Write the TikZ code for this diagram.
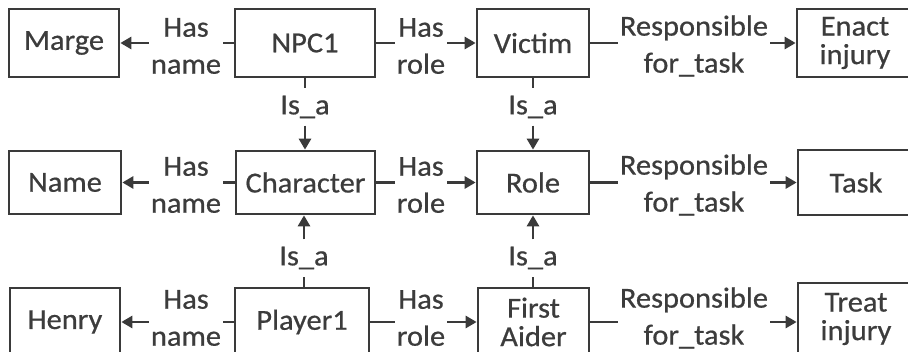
\documentclass[tikz,border=0pt]{standalone}
\usepackage{fontspec}
\setmainfont{Carlito}[FakeStretch=1.05, FakeBold=0.6]
\usetikzlibrary{arrows.meta}
\definecolor{ink}{HTML}{3A3A3A}
\definecolor{txt}{HTML}{3C3C3C}
\tikzset{
  concept/.style={draw=ink, line width=2.7pt, text=txt, align=center, inner sep=0pt,
                  font=\fontsize{29}{28.5}\selectfont},
  rel/.style={text=txt, align=center, inner xsep=2pt, inner ysep=0pt, font=\fontsize{29}{37}\selectfont},
  isa/.style={text=txt, inner sep=0pt, minimum height=37pt, font=\fontsize{29}{37}\selectfont},
  link/.style={draw=ink, line width=2.7pt},
  arr/.style={link, -{Triangle[length=11pt,width=12pt]}},
}
\begin{document}
\begin{tikzpicture}[x=1pt, y=-1pt]
\useasboundingbox[fill=white] (0,0) rectangle (908,352);

% concept boxes, row by row
\node[concept, minimum width=110pt, minimum height=68pt] (marge)  at (64,43)  {Marge};
\node[concept, minimum width=140pt, minimum height=68pt] (npc1)   at (305,43) {NPC1};
\node[concept, minimum width=112pt, minimum height=68pt] (victim) at (533,43) {Victim};
\node[concept, minimum width=116pt, minimum height=68pt] (enact)  at (855,43) {Enact\\injury};

\node[concept, minimum width=112pt, minimum height=63pt] (name)  at (65,182.5)    {Name};
\node[concept, minimum width=139pt, minimum height=63pt] (character) at (305.5,182.5) {Character};
\node[concept, minimum width=112pt, minimum height=63pt] (role)  at (533,182.5)   {Role};
\node[concept, minimum width=116pt, minimum height=65pt] (task)  at (856,182.5)   {Task};

\node[concept, minimum width=110pt, minimum height=68pt] (henry)   at (65,322)    {Henry};
\node[concept, minimum width=134pt, minimum height=68pt] (player1) at (302,322)   {Player1};
\node[concept, minimum width=111pt, minimum height=68pt] (aider)   at (533.5,322) {First\\Aider};
\node[concept, minimum width=116pt, minimum height=72pt] (treat)   at (856,319)   {Treat\\injury};

% relation labels
\node[rel] (hn1) at (186,46)  {Has\\name};
\node[rel] (hr1) at (421,46)  {Has\\role};
\node[rel] (rt1) at (694,46)  {Responsible\\for\_task};
\node[rel] (hn2) at (186,185) {Has\\name};
\node[rel] (hr2) at (421,185) {Has\\role};
\node[rel] (rt2) at (694,185) {Responsible\\for\_task};
\node[rel] (hn3) at (186,318) {Has\\name};
\node[rel] (hr3) at (421,318) {Has\\role};
\node[rel] (rt3) at (694,318) {Responsible\\for\_task};

\node[isa] (ia1) at (305,107) {Is\_a};
\node[isa] (ia2) at (533,107) {Is\_a};
\node[isa] (ia3) at (304,258) {Is\_a};
\node[isa] (ia4) at (533,258) {Is\_a};

% horizontal relations
\draw[link] (npc1) -- (hn1.east |- npc1);     \draw[arr] (hn1.west |- marge) -- (marge);
\draw[link] (npc1) -- (hr1.west |- npc1);     \draw[arr] (hr1.east |- victim) -- (victim);
\draw[link] (victim) -- (rt1.west |- victim); \draw[arr] (rt1.east |- enact) -- (enact);

\draw[link] (character) -- (hn2.east |- character); \draw[arr] (hn2.west |- name) -- (name);
\draw[link] (character) -- (hr2.west |- character); \draw[arr] (hr2.east |- role) -- (role);
\draw[link] (role) -- (rt2.west |- role);           \draw[arr] (rt2.east |- task) -- (task);

\draw[link] (player1) -- (hn3.east |- player1); \draw[arr] (hn3.west |- henry) -- (henry);
\draw[link] (player1) -- (hr3.west |- player1); \draw[arr] (hr3.east |- aider) -- (aider);
\draw[link] (aider) -- (rt3.west |- aider);     \draw[arr] (rt3.east |- aider) -- (treat.west |- aider);

% is_a relations
\draw[link] (npc1.south -| ia1) -- (ia1);   \draw[arr] (ia1) -- (ia1 |- character.north);
\draw[link] (victim.south -| ia2) -- (ia2); \draw[arr] (ia2) -- (ia2 |- role.north);
\draw[link] (player1.north -| ia3) -- (ia3); \draw[arr] (ia3) -- (ia3 |- character.south);
\draw[link] (aider.north -| ia4) -- (ia4);   \draw[arr] (ia4) -- (ia4 |- role.south);
\end{tikzpicture}
\end{document}
